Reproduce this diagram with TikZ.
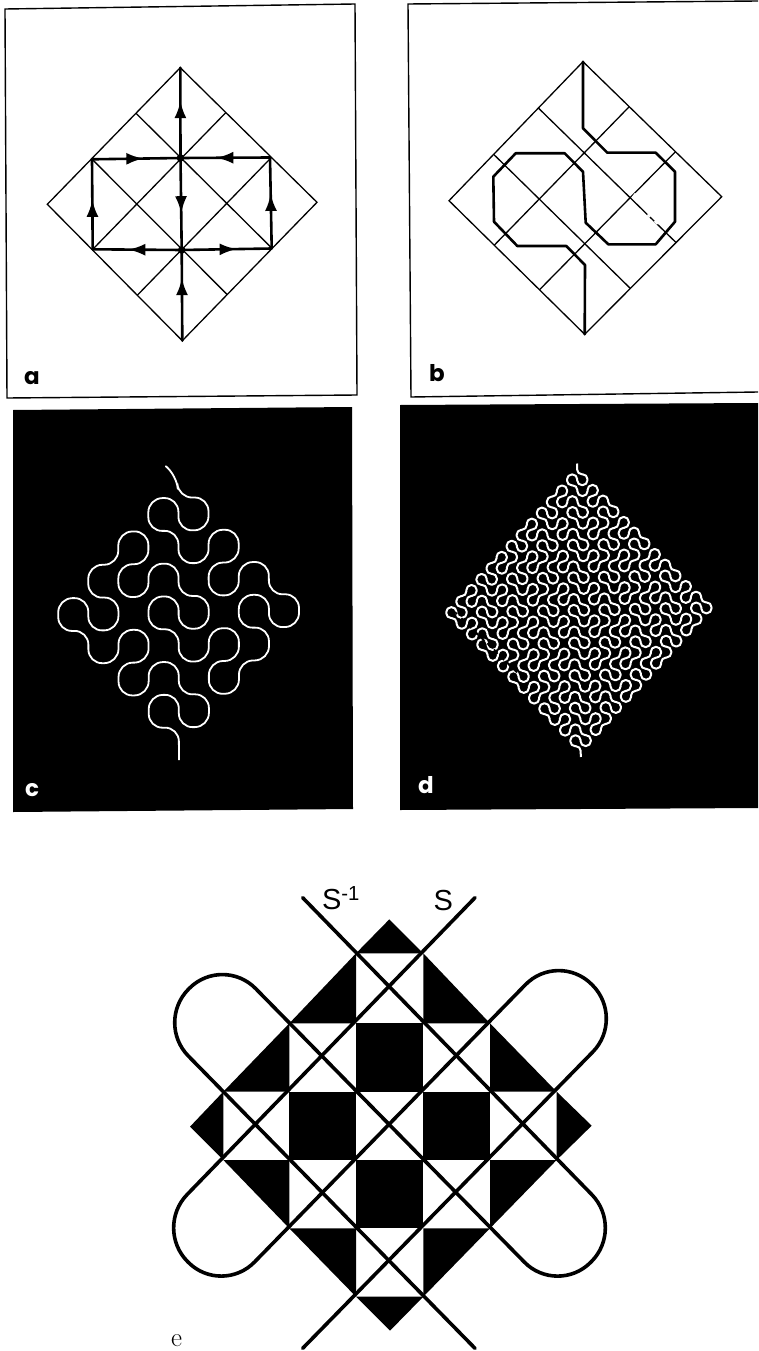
\documentclass[tikz,border=0pt]{standalone}
\usepackage{fontspec}
\setsansfont{Liberation Sans}
\newfontfamily\panelfont{Poppins}
\usetikzlibrary{calc, arrows.meta, decorations.markings}
\tikzset{
  gridline/.style={line width=1.3pt, black},
  heavyline/.style={line width=2.6pt, black, line cap=round, line join=round},
  knotline/.style={line width=3.6pt, black, line cap=round, rounded corners=47pt},
  whitecurve/.style={line width=1.8pt, white, line join=round},
  panelframe/.style={line width=1.4pt, black},
  panellabel/.style={font=\panelfont\bfseries\fontsize{23}{23}\selectfont, inner sep=0pt},
  signlabel/.style={font=\sffamily\fontsize{29}{29}\selectfont, inner sep=0pt},
  midtip/.style={postaction={decorate}, decoration={markings,
    mark=at position #1 with {\arrow{Latex[length=17pt,width=12pt]}}}}
}
% steps of the curve on an integer lattice: 0 south, 1 east, 2 north, 3 west
\newcount\walkx
\newcount\walky
\newcommand\walkstep[1]{%
  \pgfmathtruncatemacro\walkdir{mod(#1,4)}%
  \ifcase\walkdir \global\advance\walky 1 \or \global\advance\walkx 1
  \or \global\advance\walky -1 \or \global\advance\walkx -1 \fi
  \xdef\walkpath{\walkpath -- (\the\walkx,\the\walky)}}
\newcommand\peanowalk[2]{%
  \ifnum#1=0 \walkstep{#2}\else
    \foreach \turn in {0,1,0,3,2,3,0,1,0}{%
      \pgfmathtruncatemacro\sublevel{#1-1}%
      \pgfmathtruncatemacro\subdir{#2+\turn}%
      \peanowalk{\sublevel}{\subdir}}%
  \fi}
\newcommand\peanopath[1]{\global\walkx=0 \global\walky=0 \gdef\walkpath{}\peanowalk{#1}{0}}
% the diamond with its sides cut in three
\newcommand\latticelines[1]{%
  \draw[gridline] (#1T) -- (#1R) -- (#1B) -- (#1L) -- cycle;
  \foreach \t in {0.3333,0.6667}{
    \draw[gridline] ($(#1T)!\t!(#1L)$) -- ($(#1R)!\t!(#1B)$);
    \draw[gridline] ($(#1T)!\t!(#1R)$) -- ($(#1L)!\t!(#1B)$);
  }}
\begin{document}
\begin{tikzpicture}[x=1pt, y=-1pt]
  \useasboundingbox (0,0) rectangle (758,1351);

  % panel a
  \draw[panelframe] (5,9) -- (355,4) -- (357,395) -- (7,398) -- cycle;
  \coordinate (aT) at (180.3,67.7);
  \coordinate (aR) at (317,202.3);
  \coordinate (aB) at (182.3,340.7);
  \coordinate (aL) at (47.3,204.3);
  \coordinate (aN)  at (180.5,158);
  \coordinate (aS)  at (181.7,250);
  \coordinate (aNW) at (92,159.3);
  \coordinate (aNE) at (270,157.5);
  \coordinate (aSW) at (92.7,249.3);
  \coordinate (aSE) at (271.7,248.5);
  \latticelines{a}
  \draw[heavyline, midtip=0.63] (aN) -- (aT);
  \draw[heavyline, midtip=0.69] (aB) -- (aS);
  \draw[heavyline, midtip=0.6] (aN) -- (aS);
  \draw[heavyline, midtip=0.58] (aNW) -- (aN);
  \draw[heavyline, midtip=0.6] (aNE) -- (aN);
  \draw[heavyline, midtip=0.55] (aSW) -- (aNW);
  \draw[heavyline, midtip=0.6] (aSE) -- (aNE);
  \draw[heavyline, midtip=0.6] (aS) -- (aSW);
  \draw[heavyline, midtip=0.61] (aS) -- (aSE);
  \fill (aN) circle (3.8);
  \fill (aS) circle (3.8);
  \node[panellabel] (labela) at (32,378) {a};

  % panel b
  \draw[panelframe] (758,1) -- (408,4) -- (411,397) -- (758,392);
  \coordinate (bT) at (583,61.7);
  \coordinate (bR) at (721.7,196.7);
  \coordinate (bB) at (584.7,334.3);
  \coordinate (bL) at (449,200.7);
  \latticelines{b}
  \draw[line width=1.8pt, white] (635.5,193.5) -- (632,198);
  \draw[line width=1.8pt, white] (647.5,214.5) -- (650,217);
  \draw[line width=1.8pt, white] (654.5,221) -- (657.5,224);
  \draw[heavyline] (bT) -- (583,128.3) -- (607.3,152.7) -- (655.7,152.7)
    -- (675,171.7) -- (675,221.7) -- (655.7,244.3) -- (608.3,244.3)
    -- (585.7,222.7) -- (583,171.7) -- (564.7,153.3) -- (515.7,153.3)
    -- (493.3,176.7) -- (494,221.7) -- (517.3,246) -- (566.3,246)
    -- (585,265) -- (bB);
  \node[panellabel] (labelb) at (437,373) {b};

  % panel c
  \fill[black] (13,410) -- (352,407) -- (353,809) -- (13,812) -- cycle;
  \peanopath{2}
  \begin{scope}[shift={(178.3,465)}, x={(30.1pt,0.55pt)}, y={(0.07pt,-32.8pt)}]
    \draw[whitecurve, rounded corners=14pt] (-0.35,0.08) -- (-0.05,0.3) \walkpath;
  \end{scope}
  \node[panellabel, white] (labelc) at (32,790) {c};

  % panel d
  \fill[black] (400,405) -- (758,403) -- (758,808) -- (400,810) -- cycle;
  \peanopath{3}
  \begin{scope}[shift={(577,463.5)}, x={(10.2pt,0.19pt)}, y={(0.14pt,-10.87pt)}]
    \draw[whitecurve, line width=2pt, rounded corners=4.8pt] (0,0) \walkpath;
  \end{scope}
  % the print breaks up near the left corner
  \foreach \s in {0,7,14,21}
    \draw[black, line width=1.6pt, dash pattern=on 3pt off 6pt]
      (455+\s,612+\s) -- (505+\s,660+\s);
  \node[panellabel, white] (labeld) at (426,785) {d};

  % panel e
  \begin{scope}[shift={(150,860)}, scale=0.33333]
    \foreach \x/\y in {618/490,418/695,820/695,618/900}
      \fill[black] (\x,\y) rectangle ++(201,205);
    \foreach \ax/\ay/\bx/\by/\cx/\cy in {718/178/618/280/820/280,
        618/280/618/490/418/490, 418/490/418/695/220/695,
        120/800/220/695/220/900, 820/280/820/490/1020/490,
        1020/490/1020/695/1220/695, 1325/797/1220/695/1220/900,
        220/900/418/900/418/1105, 418/1105/618/1105/618/1310,
        720/1412/618/1310/820/1310, 820/1310/820/1105/1020/1105,
        1020/1105/1020/900/1220/900}
      \fill[black] (\ax,\ay) -- (\bx,\by) -- (\cx,\cy) -- cycle;
    \coordinate (eNW) at (458,113);
    \coordinate (eNE) at (975,113);
    \coordinate (eSW) at (458,1465);
    \coordinate (eSE) at (975,1465);
    \draw[knotline] (eNW) -- (1424,1105) -- (1222,1307) -- (218,285) -- (16,487) -- (eSE);
    \draw[knotline] (eNE) -- (13,1105) -- (215,1307) -- (1225,273) -- (1427,475) -- (eSW);
  \end{scope}
  \node[signlabel] (labelSinv) at (341,898) {S\textsuperscript{-1}};
  \node[signlabel] (labelS) at (443.3,900.7) {S};
  \node[font=\rmfamily\fontsize{27}{27}\selectfont, inner sep=0pt] (labele) at (176.7,1341) {e};
\end{tikzpicture}
\end{document}
